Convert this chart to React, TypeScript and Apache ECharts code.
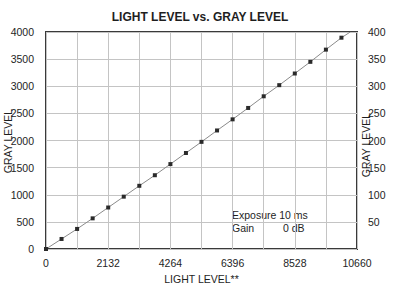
import React, { useEffect, useRef } from "react";
import * as echarts from "echarts";

const title = "LIGHT LEVEL vs. GRAY LEVEL";
const xName = "LIGHT LEVEL**";
const yName = "GRAY LEVEL";
const note1 = "Exposure 10 ms";
const note2a = "Gain";
const note2b = "0 dB";

const lightLevels = [0, 533, 1066, 1599, 2132, 2665, 3198, 3731, 4264, 4797, 5330, 5863, 6396, 6929, 7462, 7995, 8528, 9061, 9594, 10127];
const grayLevels = [0, 185, 370, 565, 765, 965, 1165, 1360, 1565, 1770, 1975, 2185, 2390, 2600, 2815, 3020, 3235, 3450, 3675, 3895];
// line continues past last sample to top of chart
const lineEndLight = 10430;
const lineEndGray = 4000;

const xTickStep = 1066;
const xMax = 10660;
const yLeftMax = 4000;
const yLeftStep = 500;
const yRightMax = 400;
const yRightStep = 50;

const FONT = "Liberation Sans, Arial, sans-serif";
const TXT = "#1e1e1e";

export default function App() {
  const ref = useRef<HTMLDivElement>(null);
  useEffect(() => {
    if (!ref.current) return;
    const chart = echarts.init(ref.current, null, { renderer: "svg" });
    const pts = lightLevels.map((x, i) => [x, grayLevels[i]]);
    const lineData: any[] = pts.map((p) => ({ value: p }));
    lineData.push({ value: [lineEndLight, lineEndGray], symbol: "none" });
    chart.setOption({
      animation: false,
      backgroundColor: "#ffffff",
      textStyle: { fontFamily: FONT },
      title: {
        text: title,
        left: "center",
        top: 6,
        textStyle: { fontSize: 12, fontWeight: "bold", color: TXT, fontFamily: FONT },
      },
      grid: { left: 46, right: 43, top: 32, bottom: 41, show: true, borderColor: "#3a3a3a", borderWidth: 2, backgroundColor: "transparent" },
      xAxis: {
        type: "value",
        min: 0,
        max: xMax,
        interval: xTickStep,
        name: xName,
        nameLocation: "middle",
        nameGap: 24,
        nameTextStyle: { fontSize: 10.5, color: TXT, fontFamily: FONT },
        axisLine: { show: false },
        axisTick: { show: false },
        splitLine: { show: true, lineStyle: { color: "#c4c4c4", width: 1 } },
        axisLabel: {
          fontSize: 10.5,
          color: TXT,
          margin: 8,
          formatter: (v: number) => (Math.round(v / xTickStep) % 2 === 0 ? String(Math.round(v)) : ""),
        },
      },
      yAxis: [
        {
          type: "value",
          min: 0,
          max: yLeftMax,
          interval: yLeftStep,
          position: "left",
          axisLine: { show: false },
          axisTick: { show: false },
          splitLine: { show: true, lineStyle: { color: "#c4c4c4", width: 1 } },
          axisLabel: { fontSize: 10.5, color: TXT, margin: 12, formatter: (v: number) => String(Math.round(v)) },
        },
        {
          type: "value",
          min: 0,
          max: yRightMax,
          interval: yRightStep,
          position: "right",
          axisLine: { show: false },
          axisTick: { show: false },
          splitLine: { show: false },
          axisLabel: { fontSize: 10.5, color: TXT, margin: 11, formatter: (v: number) => (v === 0 ? "" : String(Math.round(v))) },
        },
      ],
      series: [
        {
          type: "line",
          data: lineData,
          yAxisIndex: 0,
          symbol: "rect",
          symbolSize: 4,
          showAllSymbol: true,
          lineStyle: { color: "#8a8a8a", width: 1 },
          itemStyle: { color: "#2a2a2a" },
        },
      ],
      graphic: [
        { type: "text", x: 8, y: 141, rotation: Math.PI / 2, style: { text: yName, fontSize: 10.5, fill: TXT, fontFamily: FONT, align: "center", verticalAlign: "middle" } },
        { type: "text", x: 366, y: 145, rotation: Math.PI / 2, style: { text: yName, fontSize: 10.5, fill: TXT, fontFamily: FONT, align: "center", verticalAlign: "middle" } },
        { type: "text", x: 232, y: 215, style: { text: note1, fontSize: 10.5, fill: TXT, fontFamily: FONT, verticalAlign: "middle" } },
        { type: "text", x: 232, y: 228, style: { text: note2a, fontSize: 10.5, fill: TXT, fontFamily: FONT, verticalAlign: "middle" } },
        { type: "text", x: 283, y: 228, style: { text: note2b, fontSize: 10.5, fill: TXT, fontFamily: FONT, verticalAlign: "middle" } },
      ],
    });
    return () => chart.dispose();
  }, []);
  return <div ref={ref} style={{ width: 400, height: 290, position: "absolute", left: 0, top: 0 }} />;
}
